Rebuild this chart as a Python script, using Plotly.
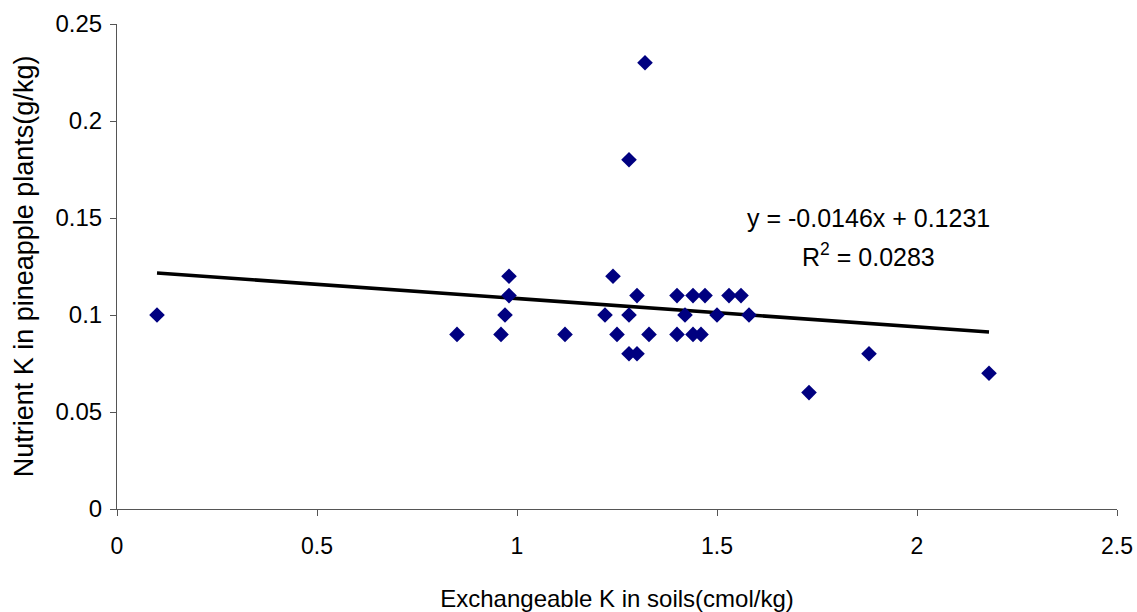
import plotly.graph_objects as go
import numpy as np

# Data
soil_k = [0.10, 0.85, 0.96, 0.97, 0.98, 0.98, 1.12, 1.22, 1.24, 1.25, 1.28, 1.28, 1.28, 1.30,
          1.30, 1.32, 1.33, 1.40, 1.40, 1.42, 1.44, 1.44, 1.46, 1.47, 1.50, 1.53, 1.56, 1.58,
          1.73, 1.88, 2.18]
plant_k = [0.10, 0.09, 0.09, 0.10, 0.11, 0.12, 0.09, 0.10, 0.12, 0.09, 0.10, 0.18, 0.08, 0.08,
           0.11, 0.23, 0.09, 0.11, 0.09, 0.10, 0.11, 0.09, 0.09, 0.11, 0.10, 0.11, 0.11, 0.10,
           0.06, 0.08, 0.07]

slope = -0.0146
intercept = 0.1231
r2 = 0.0283

x_ticks = [0, 0.5, 1, 1.5, 2, 2.5]
x_tick_labels = ["0", "0.5", "1", "1.5", "2", "2.5"]
y_ticks = [0, 0.05, 0.1, 0.15, 0.2, 0.25]
y_tick_labels = ["0", "0.05", "0.1", "0.15", "0.2", "0.25"]

trend_x = np.array([min(soil_k), max(soil_k)])
trend_y = slope * trend_x + intercept

font = "Liberation Sans, Arial, sans-serif"

fig = go.Figure()
fig.add_trace(go.Scatter(
    x=trend_x, y=trend_y, mode="lines",
    line=dict(color="black", width=3.6), showlegend=False, hoverinfo="skip"))
fig.add_trace(go.Scatter(
    x=soil_k, y=plant_k, mode="markers",
    marker=dict(symbol="diamond", size=12, color="#000080", line=dict(width=0)),
    showlegend=False))

fig.add_annotation(
    x=1.8775, y=0.15, xref="x", yref="y",
    text=f"y = {slope}x + {intercept}",
    showarrow=False, font=dict(family=font, size=25, color="black"))
fig.add_annotation(
    x=1.8775, y=0.131, xref="x", yref="y",
    text=f"R<sup>2</sup> = {r2}",
    showarrow=False, font=dict(family=font, size=25, color="black"))

fig.update_layout(
    width=1137, height=612,
    margin=dict(l=117, r=20, t=24, b=103, autoexpand=False),
    paper_bgcolor="white", plot_bgcolor="white",
    font=dict(family=font, size=23, color="black"),
    xaxis=dict(
        range=[0, 2.5], tickvals=x_ticks, ticktext=x_tick_labels,
        showgrid=False, zeroline=False, showline=True, linecolor="#555555", linewidth=1,
        ticks="outside", ticklen=6, tickcolor="#555555", ticklabelstandoff=10,
        title=dict(text="Exchangeable K in soils(cmol/kg)", font=dict(size=24), standoff=32),
        tickfont=dict(size=23)),
    yaxis=dict(
        range=[0, 0.25], tickvals=y_ticks, ticktext=y_tick_labels,
        showgrid=False, zeroline=False, showline=True, linecolor="#555555", linewidth=1,
        ticks="outside", ticklen=6, tickcolor="#555555", ticklabelstandoff=3,
        title=dict(text="Nutrient K in pineapple plants(g/kg)", font=dict(size=27), standoff=14),
        tickfont=dict(size=24)),
)

fig.write_html("out.html")
